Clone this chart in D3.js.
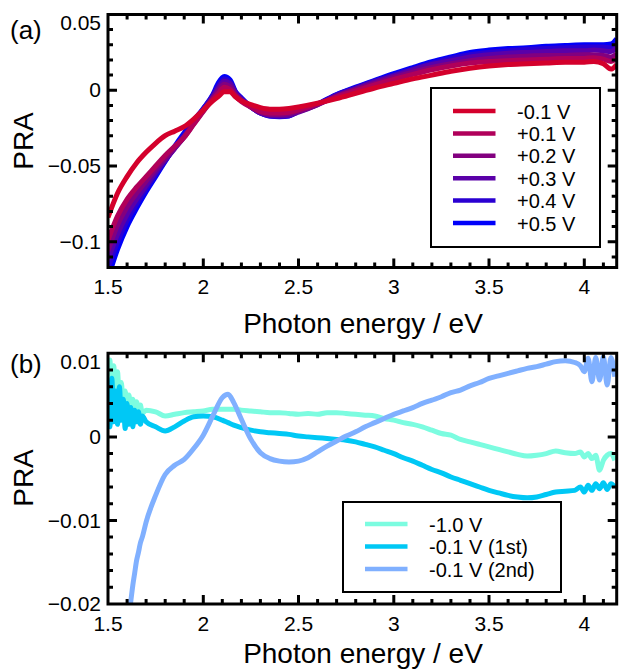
<!DOCTYPE html>
<html>
<head>
<meta charset="utf-8">
<script src="https://cdn.jsdelivr.net/npm/d3@7"></script>
</head>
<body style="margin:0">
<svg width="622" height="672"></svg>
<script>
// ---- panel (a): PRA spectra for different bias ----
var energyA = [1.50,1.55,1.60,1.65,1.70,1.75,1.80,1.85,1.90,1.95,
               2.00,2.05,2.08,2.11,2.14,2.17,2.20,2.25,2.30,2.35,
               2.40,2.45,2.50,2.60,2.70,2.80,2.90,3.00,3.10,3.20,
               3.30,3.40,3.50,3.60,3.70,3.80,3.90,4.00,4.05,4.10,
               4.14,4.17];
var praM01 = [-0.084,-0.068,-0.057,-0.048,-0.041,-0.035,-0.030,-0.027,-0.024,-0.019,
              -0.013,-0.007,-0.004,-0.001,-0.001,-0.0045,-0.007,-0.0095,-0.0115,-0.0125,
              -0.0125,-0.012,-0.011,-0.0085,-0.0055,-0.002,0.0015,0.0045,0.0075,0.010,
              0.0125,0.0145,0.016,0.017,0.0175,0.018,0.0185,0.0185,0.019,0.0175,
              0.014,0.017];
var praP01 = [-0.099,-0.083,-0.072,-0.064,-0.057,-0.050,-0.043,-0.037,-0.031,-0.0225,
              -0.014,-0.006,-0.002,0.002,0.0005,-0.004,-0.0075,-0.011,-0.014,-0.015,
              -0.015,-0.0145,-0.013,-0.009,-0.0045,-0.0005,0.0035,0.0072,0.0105,0.0135,
              0.016,0.018,0.019,0.0195,0.020,0.0205,0.021,0.021,0.0215,0.0205,
              0.019,0.021];
var praP02 = [-0.106,-0.089,-0.077,-0.068,-0.060,-0.052,-0.045,-0.038,-0.031,-0.022,
              -0.0135,-0.005,0.000,0.004,0.0025,-0.003,-0.0065,-0.011,-0.0145,-0.016,
              -0.016,-0.0155,-0.014,-0.0095,-0.004,0.0005,0.0045,0.0085,0.012,0.015,
              0.0175,0.0195,0.021,0.022,0.0225,0.023,0.023,0.0235,0.0235,0.023,
              0.022,0.024];
var praP03 = [-0.112,-0.095,-0.082,-0.072,-0.063,-0.054,-0.046,-0.0385,-0.0305,-0.0215,
              -0.013,-0.0045,0.0015,0.006,0.0045,-0.002,-0.006,-0.011,-0.015,-0.0165,
              -0.017,-0.0165,-0.0145,-0.0095,-0.0035,0.001,0.0055,0.0095,0.0135,0.017,
              0.0195,0.022,0.0235,0.0245,0.025,0.0255,0.026,0.026,0.0265,0.026,
              0.0255,0.028];
var praP04 = [-0.118,-0.100,-0.086,-0.075,-0.065,-0.0555,-0.0465,-0.038,-0.0295,-0.021,
              -0.0125,-0.0035,0.003,0.0075,0.0055,-0.0015,-0.0055,-0.011,-0.015,-0.017,
              -0.0172,-0.0168,-0.014,-0.0092,-0.003,0.0015,0.006,0.010,0.014,0.0178,
              0.021,0.0235,0.025,0.026,0.027,0.0275,0.028,0.0285,0.0285,0.0285,
              0.028,0.031];
var praP05 = [-0.124,-0.105,-0.090,-0.078,-0.067,-0.057,-0.047,-0.037,-0.028,-0.020,
              -0.012,-0.003,0.005,0.009,0.007,-0.001,-0.005,-0.011,-0.015,-0.017,
              -0.0175,-0.017,-0.0135,-0.009,-0.0028,0.002,0.0065,0.011,0.015,0.0188,
              0.022,0.025,0.0265,0.0275,0.028,0.029,0.0295,0.030,0.030,0.030,
              0.0305,0.034];
var seriesA = [praM01, praP01, praP02, praP03, praP04, praP05];
var labelsA = ["-0.1 V", "+0.1 V", "+0.2 V", "+0.3 V", "+0.4 V", "+0.5 V"];
var colorsA = ["#d4002c", "#b0005a", "#82007f", "#5a00a8", "#2a00d2", "#0000fa"];

// ---- panel (b) ----
var energyB = [1.50,1.51,1.52,1.53,1.54,1.55,1.56,1.57,1.58,1.59,1.60,1.61,1.62,1.63,1.64,1.65,1.66,1.67,1.68,
               1.70,1.75,1.80,1.85,1.90,1.95,2.00,2.05,2.10,2.13,2.16,
               2.20,2.25,2.30,2.35,2.40,2.45,2.50,2.55,2.60,2.65,2.70,2.75,2.80,2.85,2.90,2.95,
               3.00,3.05,3.10,3.15,3.20,3.25,3.30,3.35,3.40,3.45,3.50,3.55,3.60,3.65,3.70,3.75,
               3.80,3.85,3.90,3.95,
               3.98,4.00,4.02,4.04,4.06,4.08,4.10,4.12,4.14,4.16];
var praM10 = [0.0060,0.0092,0.0040,0.0085,0.0050,0.0078,0.0042,0.0065,0.0038,0.0055,0.0035,0.0050,0.0032,0.0045,0.0030,0.0042,0.0030,0.0038,0.0028,
              0.0032,0.0030,0.0025,0.0027,0.0029,0.0030,0.0031,0.0033,0.0033,0.0033,0.0033,
              0.0032,0.0031,0.0030,0.0029,0.0029,0.0028,0.0027,0.0028,0.0027,0.0029,0.0029,0.0028,0.0027,0.0026,0.0025,0.0022,
              0.0020,0.0017,0.0015,0.0012,0.0008,0.0004,0.0002,-0.0003,-0.0006,-0.0009,-0.0012,-0.0015,-0.0018,-0.0021,-0.0023,-0.0022,
              -0.0020,-0.0017,-0.0019,-0.0020,
              -0.0018,-0.0024,-0.0020,-0.0026,-0.0022,-0.0040,-0.0028,-0.0022,-0.0020,-0.0028];
var praM01first = [0.0030,0.0012,0.0070,0.0018,0.0055,0.0015,0.0060,0.0020,0.0045,0.0010,0.0040,0.0015,0.0035,0.0012,0.0032,0.0018,0.0030,0.0015,0.0025,
              0.0018,0.0012,0.0007,0.0012,0.0019,0.0024,0.0025,0.0024,0.0020,0.0017,0.0014,
              0.0011,0.0008,0.0006,0.0005,0.0004,0.0003,0.0001,0.0000,-0.0001,-0.0002,-0.0003,-0.0004,-0.0006,-0.0009,-0.0012,-0.0016,
              -0.0020,-0.0025,-0.0029,-0.0034,-0.0039,-0.0043,-0.0048,-0.0052,-0.0056,-0.0060,-0.0064,-0.0067,-0.0070,-0.0072,-0.0073,-0.0072,
              -0.0069,-0.0066,-0.0065,-0.0064,
              -0.0060,-0.0066,-0.0058,-0.0064,-0.0056,-0.0062,-0.0055,-0.0063,-0.0056,-0.0060];
var praM01second = [-0.046,-0.043,-0.040,-0.038,-0.035,-0.033,-0.031,-0.029,-0.027,-0.025,-0.023,-0.0213,-0.0196,-0.0178,-0.0163,-0.0148,-0.0138,-0.0127,-0.0120,
              -0.0102,-0.0070,-0.0045,-0.0034,-0.0027,-0.0014,0.0002,0.0025,0.0047,0.0051,0.0041,
              0.0021,-0.0003,-0.0019,-0.0026,-0.0029,-0.0030,-0.0029,-0.0025,-0.0018,-0.0011,-0.0005,0.0001,0.0006,0.0012,0.0017,0.0022,
              0.0027,0.0031,0.0035,0.0040,0.0044,0.0048,0.0053,0.0056,0.0061,0.0065,0.0070,0.0073,0.0076,0.0079,0.0082,0.0084,
              0.0087,0.0090,0.0091,0.0089,
              0.0085,0.0078,0.0094,0.0066,0.0095,0.0068,0.0096,0.0062,0.0095,0.0072];
var seriesB = [praM10, praM01first, praM01second];
var labelsB = ["-1.0 V", "-0.1 V (1st)", "-0.1 V (2nd)"];
var colorsB = ["#7cfce0", "#00c8f5", "#80b0ff"];

// ticks
var xTicks = [1.5, 2, 2.5, 3, 3.5, 4];
var xTickLabels = ["1.5", "2", "2.5", "3", "3.5", "4"];
var yTicksA = [0.05, 0, -0.05, -0.1];
var yTickLabelsA = ["0.05", "0", "\u22120.05", "\u22120.1"];
var yTicksB = [0.01, 0, -0.01, -0.02];
var yTickLabelsB = ["0.01", "0", "\u22120.01", "\u22120.02"];

var svg = d3.select("svg");
var font = "Liberation Sans, Arial, Helvetica, sans-serif";
var left = 108, right = 616.7;

var x = d3.scaleLinear().domain([1.5, 4.17]).range([left, right]);
var yA = d3.scaleLinear().domain([-0.117, 0.05]).range([267.5, 14.5]);
var yB = d3.scaleLinear().domain([-0.02, 0.01]).range([604, 353.3]);

var xMinor = d3.range(16, 42).map(function (v) { return v / 10; });
var yMinorA = d3.range(-11, 5).map(function (v) { return v / 100; });
var yMinorB = d3.range(-10, 5).map(function (v) { return v / 500; });

function r1(v) { return Math.round(v * 10) / 10; }

// frame outline plus inward ticks on all four sides, all in one path
function framePath(y, yMajor, yMinor) {
    var y0 = y.range()[1], y1 = y.range()[0];
    var d = "M" + left + "," + y0 + "H" + right + "V" + y1 + "H" + left + "Z";
    [[xTicks, 9], [xMinor, 5]].forEach(function (t) {
        t[0].forEach(function (v) {
            d += "M" + r1(x(v)) + "," + y1 + "V" + (y1 - t[1]);
            d += "M" + r1(x(v)) + "," + y0 + "V" + (y0 + t[1]);
        });
    });
    [[yMajor, 9], [yMinor, 5]].forEach(function (t) {
        t[0].forEach(function (v) {
            d += "M" + left + "," + r1(y(v)) + "H" + (left + t[1]);
            d += "M" + right + "," + r1(y(v)) + "H" + r1(right - t[1]);
        });
    });
    return d;
}

function drawPanel(y, energies, series, colors, yTicks, yTickLabels, yMinor, id) {
    var y0 = y.range()[1], y1 = y.range()[0];

    svg.append("clipPath").attr("id", id)
        .append("rect")
        .attr("x", left).attr("y", y0)
        .attr("width", right - left).attr("height", y1 - y0);

    var line = d3.line()
        .curve(d3.curveMonotoneX)
        .x(function (d) { return x(d[0]); })
        .y(function (d) { return y(d[1]); });

    // panel a: -0.1 V drawn last (on top); panel b: (2nd) on top
    var order = d3.range(series.length);
    if (id === "clipA") order.reverse();
    var plot = svg.append("g").attr("clip-path", "url(#" + id + ")");
    order.forEach(function (k) {
        var pts = energies.map(function (e, i) { return [e, series[k][i]]; });
        plot.append("path")
            .attr("d", line(pts))
            .attr("fill", "none")
            .attr("stroke", colors[k])
            .attr("stroke-width", 5)
            .attr("stroke-linejoin", "round");
    });

    // frame + ticks
    svg.append("path")
        .attr("d", framePath(y, yTicks, yMinor))
        .attr("fill", "none")
        .attr("stroke", "#000")
        .attr("stroke-width", 3);

    // tick labels
    svg.append("g").selectAll("text")
        .data(xTicks).enter()
        .append("text")
        .attr("x", function (d) { return x(d); })
        .attr("y", y1 + 12)
        .attr("dy", "0.71em")
        .attr("text-anchor", "middle")
        .attr("font-family", font).attr("font-size", 21)
        .text(function (d, i) { return xTickLabels[i]; });
    svg.append("g").selectAll("text")
        .data(yTicks).enter()
        .append("text")
        .attr("x", left - 7)
        .attr("y", function (d) { return y(d); })
        .attr("dy", function (d, i) { return i === 0 ? "0.75em" : "0.34em"; })
        .attr("text-anchor", "end")
        .attr("font-family", font).attr("font-size", 21)
        .text(function (d, i) { return yTickLabels[i]; });
}

function drawLegend(bx, by, bw, bh, ly0, step, lx, tx, labels, colors) {
    var g = svg.append("g");
    g.append("rect")
        .attr("x", bx).attr("y", by).attr("width", bw).attr("height", bh)
        .attr("fill", "#fff").attr("stroke", "#000").attr("stroke-width", 2);
    labels.forEach(function (lab, i) {
        var yy = ly0 + i * step;
        g.append("line")
            .attr("x1", lx).attr("x2", lx + 42.5)
            .attr("y1", yy).attr("y2", yy)
            .attr("stroke", colors[i]).attr("stroke-width", 4.5);
        g.append("text")
            .attr("x", tx).attr("y", yy + 7.5)
            .attr("font-family", font).attr("font-size", 20)
            .text(lab);
    });
}

drawPanel(yA, energyA, seriesA, colorsA, yTicksA, yTickLabelsA, yMinorA, "clipA");
drawPanel(yB, energyB, seriesB, colorsB, yTicksB, yTickLabelsB, yMinorB, "clipB");

drawLegend(431, 88, 169, 159, 111, 22.4, 453, 517, labelsA, colorsA);
drawLegend(343, 502, 218, 90, 524, 22.5, 365, 429, labelsB, colorsB);

// axis titles and panel tags
function addText(txt, xx, yy, size, anchor, rot) {
    var t = svg.append("text")
        .attr("font-family", font).attr("font-size", size)
        .attr("text-anchor", anchor)
        .text(txt);
    if (rot) t.attr("transform", "translate(" + xx + "," + yy + ") rotate(-90)");
    else t.attr("x", xx).attr("y", yy);
}
addText("Photon energy / eV", 363, 333, 28, "middle");
addText("Photon energy / eV", 363, 663, 28, "middle");
addText("PRA", 33, 141, 28, "middle", true);
addText("PRA", 33, 478, 28, "middle", true);
addText("(a)", 10, 39, 26, "start");
addText("(b)", 10, 373, 26, "start");
</script>
</body>
</html>
